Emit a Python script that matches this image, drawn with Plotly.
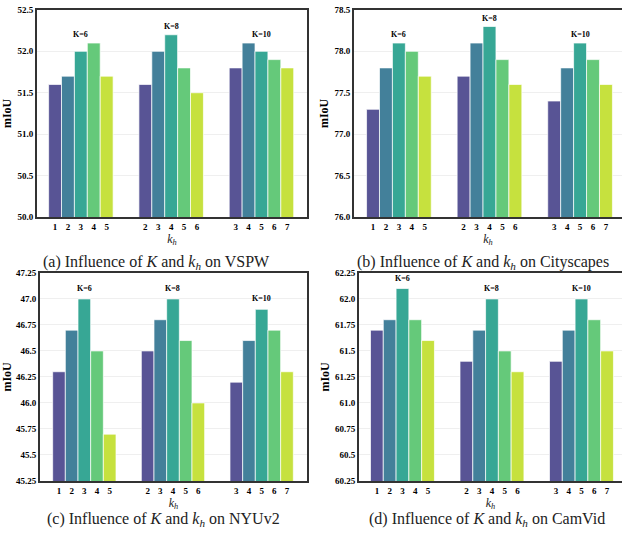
import plotly.graph_objects as go

W, H = 622, 537

group_labels = ["K=6", "K=8", "K=10"]
kh_ticks = [["1", "2", "3", "4", "5"], ["2", "3", "4", "5", "6"], ["3", "4", "5", "6", "7"]]
bar_colors = ["#585495", "#43809a", "#37a795", "#65c97a", "#c6e13e"]

vspw = [[51.6, 51.7, 52.0, 52.1, 51.7], [51.6, 52.0, 52.2, 51.8, 51.5], [51.8, 52.1, 52.0, 51.9, 51.8]]
cityscapes = [[77.3, 77.8, 78.1, 78.0, 77.7], [77.7, 78.1, 78.3, 77.9, 77.6], [77.4, 77.8, 78.1, 77.9, 77.6]]
nyuv2 = [[46.3, 46.7, 47.0, 46.5, 45.7], [46.5, 46.8, 47.0, 46.6, 46.0], [46.2, 46.6, 46.9, 46.7, 46.3]]
camvid = [[61.7, 61.8, 62.1, 61.8, 61.6], [61.4, 61.7, 62.0, 61.5, 61.3], [61.4, 61.7, 62.0, 61.8, 61.5]]

yticks_a = [50.0, 50.5, 51.0, 51.5, 52.0, 52.5]
yticks_b = [76.0, 76.5, 77.0, 77.5, 78.0, 78.5]
yticks_c = [45.25, 45.5, 45.75, 46.0, 46.25, 46.5, 46.75, 47.0, 47.25]
ytext_c = ["45.25", "45.5", "45.75", "46.0", "46.25", "46.5", "46.75", "47.0", "47.25"]
yticks_d = [60.25, 60.5, 60.75, 61.0, 61.25, 61.5, 61.75, 62.0, 62.25]
ytext_d = ["60.25", "60.5", "60.75", "61.0", "61.25", "61.5", "61.75", "62.0", "62.25"]

captions = [
    "(a) Influence of <i>K</i> and <i>k</i><sub><i>h</i></sub> on VSPW",
    "(b) Influence of <i>K</i> and <i>k</i><sub><i>h</i></sub> on Cityscapes",
    "(c) Influence of <i>K</i> and <i>k</i><sub><i>h</i></sub> on NYUv2",
    "(d) Influence of <i>K</i> and <i>k</i><sub><i>h</i></sub> on CamVid",
]

# panel geometry in pixels: (left, right, top, bottom), x range
panels = [
    dict(data=vspw, px=(37, 307, 5, 216), xr=[-3.4, 17.53], yt=yticks_a,
         ytt=[f"{v:.1f}" for v in yticks_a], cap=(157, 262)),
    dict(data=cityscapes, px=(354, 622, 5, 216), xr=[-3.47, 17.24], yt=yticks_b,
         ytt=[f"{v:.1f}" for v in yticks_b], cap=(483, 262)),
    dict(data=nyuv2, px=(40, 307, 273, 485), xr=[-3.5, 17.58], yt=yticks_c,
         ytt=ytext_c, cap=(163, 524)),
    dict(data=camvid, px=(359, 622, 273, 485), xr=[-3.4, 17.17], yt=yticks_d,
         ytt=ytext_d, cap=(487, 524)),
]

FONT = "Liberation Serif"
fig = go.Figure()
annotations = []
layout = {}

for p_i, p in enumerate(panels):
    sfx = "" if p_i == 0 else str(p_i + 1)
    xa, ya = "x" + sfx, "y" + sfx
    data = p["data"]
    tickvals, ticktext = [], []
    for g, vals in enumerate(data):
        for i in range(5):
            tickvals.append(g * 7 + i - 2)
            ticktext.append("<b>" + kh_ticks[g][i] + "</b>")
    for i in range(5):
        xs = [g * 7 + i - 2 for g in range(3)]
        ys = [data[g][i] for g in range(3)]
        fig.add_trace(go.Bar(
            x=xs, y=ys, width=1.0, xaxis=xa, yaxis=ya, showlegend=False,
            marker=dict(color=bar_colors[i], line=dict(color="rgba(255,255,255,0.7)", width=1)),
            hoverinfo="y",
        ))
    for g in range(3):
        annotations.append(dict(
            x=g * 7, y=max(data[g]) + 0.1, xref=xa, yref=ya,
            text="<b>" + group_labels[g] + "</b>", showarrow=False,
            font=dict(family=FONT, size=8, color="black"),
        ))
    l, r, t, b = p["px"]
    yr = [p["yt"][0], p["yt"][-1]]
    layout["xaxis" + sfx] = dict(
        domain=[l / W, r / W], range=p["xr"], anchor=ya,
        tickvals=tickvals, ticktext=ticktext, ticks="", showgrid=False, zeroline=False,
        showline=True, linecolor="#333333", linewidth=2, mirror=True,
        tickfont=dict(family=FONT, size=9, color="black"),
        title=dict(text="<i>k</i><sub><i>h</i></sub>", font=dict(family=FONT, size=12, color="#222"), standoff=0),
        fixedrange=True,
    )
    layout["yaxis" + sfx] = dict(
        domain=[(H - b) / H, (H - t) / H], range=yr, anchor=xa,
        tickvals=p["yt"], ticktext=["<b>" + s + "</b>" for s in p["ytt"]], ticks="",
        showgrid=True, gridcolor="#efefef", gridwidth=1,
        zeroline=False, showline=True, linecolor="#333333", linewidth=2,
        mirror=(p_i in (0, 2)),
        tickfont=dict(family=FONT, size=9, color="black"),
        title=dict(text="<b>mIoU</b>", font=dict(family=FONT, size=12, color="black"), standoff=3),
        fixedrange=True,
    )
    cx, cy = p["cap"]
    annotations.append(dict(
        x=cx / W, y=(H - cy) / H, xref="paper", yref="paper", text=captions[p_i],
        showarrow=False, xanchor="center", yanchor="middle",
        font=dict(family=FONT, size=16, color="#222"),
    ))

fig.update_layout(
    width=W, height=H, margin=dict(l=0, r=0, t=0, b=0),
    paper_bgcolor="white", plot_bgcolor="white", barmode="overlay",
    font=dict(family=FONT),
    annotations=annotations, **layout,
)
fig.write_html("out.html", post_script="document.body.style.margin='0';",
               config={"displayModeBar": False})
